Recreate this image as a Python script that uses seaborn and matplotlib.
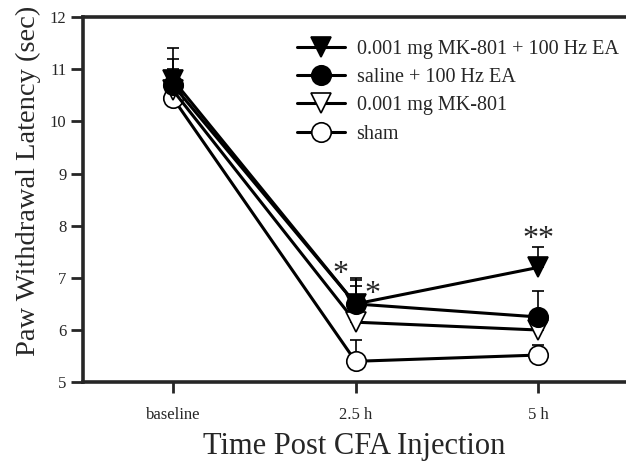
import numpy as np
import pandas as pd
import matplotlib
matplotlib.use("Agg")
import matplotlib.pyplot as plt
import seaborn as sns

# time points
times = ["baseline", "2.5 h", "5 h"]

# group means (sec)
mk_ea = [10.8, 6.5, 7.2]
saline_ea = [10.7, 6.5, 6.25]
mk = [10.6, 6.15, 6.0]
sham = [10.45, 5.4, 5.52]

# upward error (SEM)
mk_ea_err = [0.6, 0.5, 0.4]
saline_ea_err = [0.5, 0.45, 0.5]
mk_err = [0.4, 0.7, 0.3]
sham_err = [0.3, 0.4, 0.2]

labels = ["0.001 mg MK-801 + 100 Hz EA", "saline + 100 Hz EA", "0.001 mg MK-801", "sham"]

# significance stars: (x position, y value, text)
star_x = [0.92, 1.09, 2.0]
star_y = [7.06, 6.68, 7.74]
star_txt = ["*", "*", "**"]

sns.set_style("ticks")
plt.rcParams["font.family"] = ["Liberation Serif", "DejaVu Serif"]

fig = plt.figure(figsize=(6.26, 4.61), dpi=100)
ax = fig.add_axes([0.133, 0.171, 0.867, 0.792])

xs = np.arange(len(times))
series = [
    (sham, sham_err, "o", "white", labels[3]),
    (mk, mk_err, "v", "white", labels[2]),
    (saline_ea, saline_ea_err, "o", "black", labels[1]),
    (mk_ea, mk_ea_err, "v", "black", labels[0]),
]

# upward-only error bars
for vals, err, mk_, fc, lab in series:
    ax.errorbar(xs, vals, yerr=[np.zeros(len(err)), err], fmt="none",
                ecolor="black", elinewidth=1.2, capsize=4, capthick=1.2, zorder=2)
for vals, err, mk_, fc, lab in series:
    df = pd.DataFrame({"x": xs, "y": vals})
    sns.lineplot(data=df, x="x", y="y", ax=ax, color="black", lw=2.2,
                 marker=mk_, markersize=14, markerfacecolor=fc,
                 markeredgecolor="black", markeredgewidth=1.2, zorder=3,
                 label=lab)

for sx, sy, st in zip(star_x, star_y, star_txt):
    ax.text(sx, sy, st, ha="center", va="center", fontsize=23)

ax.set_xlim(-0.49, 2.48)
ax.set_ylim(5, 12)
ax.set_xticks(xs)
ax.set_xticklabels(times, fontsize=12)
ax.set_yticks(range(5, 13))
ax.tick_params(axis="y", labelsize=12, length=9, width=2, pad=3)
ax.tick_params(axis="x", length=8, width=2, pad=10)
ax.set_xlabel("Time Post CFA Injection", fontsize=22, labelpad=6)
ax.set_ylabel("Paw Withdrawal Latency (sec)", fontsize=20.5)
ax.yaxis.set_label_coords(-0.078, 0.55)

for side in ["left", "bottom", "top"]:
    ax.spines[side].set_linewidth(2.6)
ax.spines["right"].set_visible(False)

h, l = ax.get_legend_handles_labels()
order = [l.index(x) for x in labels]
ax.legend([h[i] for i in order], labels, loc="upper left",
          bbox_to_anchor=(0.394, 0.937), frameon=False,
          fontsize=14.5, handlelength=2.4, borderaxespad=0, borderpad=0,
          labelspacing=0.45, handletextpad=0.55)

fig.savefig("out.png", dpi=100)
